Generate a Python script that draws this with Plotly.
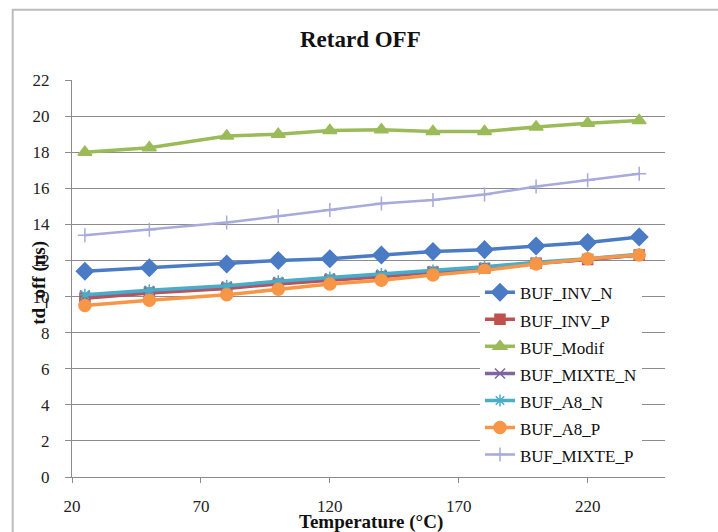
import plotly.graph_objects as go

# Temperature points (°C)
temperature = [25, 50, 80, 100, 120, 140, 160, 180, 200, 220, 240]

# Turn-off delay td_off (ns) per buffer
buf_inv_n = [11.4, 11.6, 11.8, 12.0, 12.1, 12.3, 12.5, 12.6, 12.8, 13.0, 13.3]
buf_inv_p = [9.9, 10.2, 10.45, 10.7, 10.9, 11.1, 11.35, 11.55, 11.85, 12.05, 12.3]
buf_modif = [18.0, 18.25, 18.9, 19.0, 19.2, 19.25, 19.15, 19.15, 19.4, 19.6, 19.75]
buf_mixte_n = [10.05, 10.3, 10.55, 10.8, 11.0, 11.2, 11.4, 11.6, 11.85, 12.05, 12.3]
buf_a8_n = [10.1, 10.35, 10.6, 10.85, 11.05, 11.25, 11.45, 11.65, 11.9, 12.1, 12.35]
buf_a8_p = [9.5, 9.8, 10.1, 10.4, 10.7, 10.9, 11.2, 11.45, 11.8, 12.1, 12.3]
buf_mixte_p = [13.4, 13.7, 14.1, 14.45, 14.8, 15.15, 15.35, 15.65, 16.1, 16.45, 16.8]

x_ticks = [20, 70, 120, 170, 220]
y_ticks = list(range(0, 23, 2))

FONT = "Liberation Serif"
GRID = "#8c8c8c"

series = [
    ("BUF_INV_N", buf_inv_n, "#4a7bc4", "diamond", 13, 3.5),
    ("BUF_INV_P", buf_inv_p, "#c0504d", "square", 10, 3.5),
    ("BUF_Modif", buf_modif, "#9bbb59", "triangle-up", 12, 3.5),
    ("BUF_MIXTE_N", buf_mixte_n, "#8064a2", "x-thin-open", 10, 3.5),
    ("BUF_A8_N", buf_a8_n, "#4bacc6", "asterisk-open", 10, 3.5),
    ("BUF_A8_P", buf_a8_p, "#f79646", "circle", 12, 3.5),
    ("BUF_MIXTE_P", buf_mixte_p, "#a6aadc", "cross-thin-open", 10, 2.5),
]

fig = go.Figure()
for name, vals, color, symbol, msize, lw in series:
    fig.add_trace(go.Scatter(
        x=temperature, y=vals,
        name=f'<span style="font-size:17px">{name}</span>',
        mode="lines+markers",
        line=dict(color=color, width=lw),
        marker=dict(symbol=symbol, size=msize, color=color,
                    line=dict(color=color, width=1.5)),
    ))

fig.update_layout(
    width=718, height=532,
    margin=dict(l=72, r=53, t=80, b=55),
    paper_bgcolor="white", plot_bgcolor="white",
    font=dict(family=FONT, size=16, color="#222222"),
    showlegend=True,
    legend=dict(
        x=0.688, y=0.512, xanchor="left", yanchor="top",
        bgcolor="white", borderwidth=0,
        font=dict(family=FONT, size=18.5, color="#111111"),
        tracegroupgap=0, itemwidth=30,
    ),
    xaxis=dict(
        range=[20, 250], tickvals=x_ticks, ticktext=[str(t) for t in x_ticks],
        showgrid=False, zeroline=False,
        showline=True, linecolor=GRID, linewidth=1,
        ticks="outside", ticklen=5, tickcolor=GRID,
        ticklabelstandoff=9,
        tickfont=dict(family=FONT, size=17, color="#222222"),
    ),
    yaxis=dict(
        range=[0, 22], tickvals=y_ticks,
        showgrid=True, gridcolor=GRID, gridwidth=1, zeroline=False,
        showline=True, linecolor=GRID, linewidth=1,
        ticks="outside", ticklen=6, tickcolor=GRID,
        ticklabelstandoff=12,
        tickfont=dict(family=FONT, size=17, color="#222222"),
    ),
    annotations=[
        dict(text="<b>Retard OFF</b>", xref="paper", yref="paper",
             x=0.487, y=1.102, xanchor="center", yanchor="middle",
             showarrow=False, font=dict(family=FONT, size=23, color="#111111")),
        dict(text="<b>Temperature (°C)</b>", xref="paper", yref="paper",
             x=0.505, y=-0.114, xanchor="center", yanchor="middle",
             showarrow=False, font=dict(family=FONT, size=19, color="#111111")),
        dict(text="<b>td_off (ns)</b>", xref="paper", yref="paper",
             x=-0.055, y=0.49, xanchor="center", yanchor="middle",
             textangle=-90, showarrow=False,
             font=dict(family=FONT, size=19, color="#111111")),
    ],
    shapes=[
        dict(type="rect", xref="paper", yref="paper",
             x0=-0.1, x1=1.1, y0=-0.2, y1=1.177,
             line=dict(color="#bdbdbd", width=2), fillcolor="rgba(0,0,0,0)",
             layer="below"),
    ],
)

fig.write_html("out.html")
